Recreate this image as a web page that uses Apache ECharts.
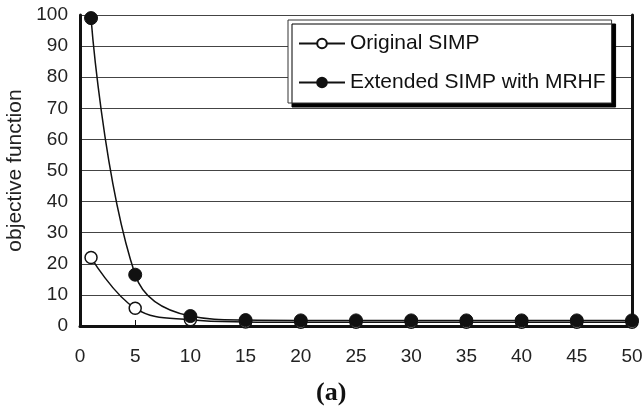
<!DOCTYPE html>
<html>
<head>
<meta charset="utf-8">
<script src="https://cdn.jsdelivr.net/npm/echarts@6/dist/echarts.min.js"></script>
<style>
  html, body { margin: 0; padding: 0; background: #fff; }
  #chart { width: 642px; height: 407px; }
</style>
</head>
<body>
<div id="chart"></div>
<script>
// iterations where markers are drawn
var iterations = [1, 5, 10, 15, 20, 25, 30, 35, 40, 45, 50];
var originalSimp = [22, 5.7, 2.0, 1.3, 1.2, 1.2, 1.2, 1.2, 1.2, 1.2, 1.2];
var extendedSimp = [99, 16.5, 3.2, 1.9, 1.8, 1.8, 1.8, 1.8, 1.8, 1.8, 1.8];
var seriesNames = ["Original SIMP", "Extended SIMP with MRHF"];
var yTitle = "objective function";
var caption = "(a)";

function pairs(xs, ys) {
  var out = [];
  for (var i = 0; i < xs.length; i++) {
    out.push([xs[i], ys[i]]);
  }
  return out;
}

var tickFont = {
  color: "#222",
  fontFamily: "Liberation Sans, Arial, sans-serif",
  fontSize: 19,
};

var myChart = echarts.init(document.getElementById("chart"));
myChart.setOption({
  animation: false,
  backgroundColor: "#fff",
  grid: { left: 80, right: 10, top: 15, bottom: 81, outerBoundsMode: "none" },
  legend: {
    orient: "vertical",
    left: 288,
    top: 20,
    padding: [13, 6, 10, 10],
    itemGap: 18,
    itemWidth: 46,
    itemHeight: 12,
    backgroundColor: "#fff",
    borderColor: "#333",
    borderWidth: 1,
    shadowColor: "#000",
    shadowBlur: 0,
    shadowOffsetX: 4,
    shadowOffsetY: 4,
    textStyle: {
      color: "#111",
      fontFamily: "Liberation Sans, Arial, sans-serif",
      fontSize: 21,
    },
    data: seriesNames,
  },
  xAxis: {
    type: "value",
    min: 0,
    max: 50,
    interval: 5,
    axisLine: { lineStyle: { color: "#111", width: 3 } },
    axisTick: { inside: true, length: 6, lineStyle: { color: "#111" } },
    axisLabel: Object.assign({ margin: 21 }, tickFont),
    splitLine: { show: false },
  },
  yAxis: [
    {
      type: "value",
      min: 0,
      max: 100,
      interval: 10,
      name: yTitle,
      nameLocation: "middle",
      nameGap: 52,
      nameTextStyle: {
        color: "#222",
        fontFamily: "Liberation Sans, Arial, sans-serif",
        fontSize: 21,
      },
      axisLine: { show: true, lineStyle: { color: "#111", width: 3 } },
      axisTick: { show: false },
      axisLabel: Object.assign({ margin: 12 }, tickFont),
      splitLine: { lineStyle: { color: "#444", width: 1 } },
    },
    {
      type: "value",
      position: "right",
      min: 0,
      max: 100,
      interval: 10,
      axisLine: { show: true, lineStyle: { color: "#111", width: 3 } },
      axisTick: { show: false },
      axisLabel: { show: false },
      splitLine: { show: false },
    },
  ],
  graphic: [
    {
      type: "text",
      left: 316,
      top: 380,
      style: {
        text: caption,
        fill: "#111",
        font: "bold 26px 'Liberation Serif', 'Times New Roman', serif",
      },
    },
  ],
  series: [
    {
      name: seriesNames[0],
      type: "line",
      smooth: 0.4,
      data: pairs(iterations, originalSimp),
      symbol: "circle",
      symbolSize: 12,
      lineStyle: { color: "#111", width: 1.5 },
      itemStyle: { color: "#fff", borderColor: "#111", borderWidth: 1.5 },
      z: 2,
    },
    {
      name: seriesNames[1],
      type: "line",
      smooth: 0.4,
      data: pairs(iterations, extendedSimp),
      symbol: "circle",
      symbolSize: 13,
      lineStyle: { color: "#111", width: 1.5 },
      itemStyle: { color: "#111", borderColor: "#111", borderWidth: 1 },
      z: 3,
    },
  ],
});
</script>
</body>
</html>
